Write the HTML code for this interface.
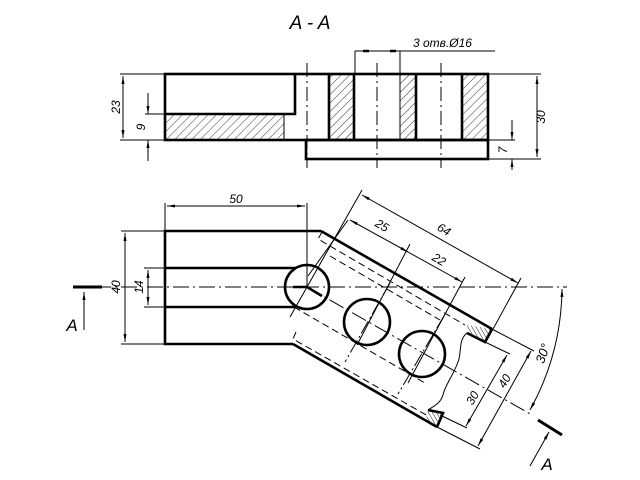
<!DOCTYPE html>
<html><head><meta charset="utf-8"><style>
html,body{margin:0;padding:0;background:#fff}
svg{display:block}
text{font-family:"Liberation Sans","DejaVu Sans",sans-serif;font-style:italic;fill:#000}
</style></head><body>
<svg width="640" height="480" viewBox="0 0 640 480" xmlns="http://www.w3.org/2000/svg">
<defs>
<pattern id="h" width="6" height="6" patternUnits="userSpaceOnUse" patternTransform="rotate(45)">
<line x1="0" y1="0" x2="0" y2="6" stroke="#000" stroke-width="0.8"/>
</pattern>
<pattern id="h2" width="3.5" height="3.5" patternUnits="userSpaceOnUse" patternTransform="rotate(-30)">
<line x1="0" y1="0" x2="0" y2="3.5" stroke="#000" stroke-width="0.9"/>
</pattern>
<marker id="ar" markerWidth="8" markerHeight="6" refX="8" refY="3" orient="auto" markerUnits="userSpaceOnUse">
<path d="M0,1.5 L8,3 L0,4.5z" fill="#000"/></marker>
<marker id="as" markerWidth="8" markerHeight="6" refX="0" refY="3" orient="auto" markerUnits="userSpaceOnUse">
<path d="M8,1.5 L0,3 L8,4.5z" fill="#000"/></marker>
</defs>

<text x="310" y="29" font-size="19" text-anchor="middle">A - A</text>

<g>
<rect x="165" y="114" width="119" height="26" fill="url(#h)"/>
<rect x="329" y="74" width="25" height="66" fill="url(#h)"/>
<rect x="400" y="74" width="16" height="66" fill="url(#h)"/>
<rect x="462" y="74" width="26" height="66" fill="url(#h)"/>
<g fill="none" stroke="#000" stroke-width="2.6">
<rect x="165" y="74" width="323" height="66"/>
<polyline points="165,114 295,114 295,74"/>
<rect x="306" y="140" width="182" height="19"/>
<line x1="329" y1="74" x2="329" y2="140"/>
<line x1="354" y1="74" x2="354" y2="140"/>
<line x1="416" y1="74" x2="416" y2="140"/>
<line x1="462" y1="74" x2="462" y2="140"/>
</g>
<g stroke="#000" stroke-width="1" fill="none">
<line x1="284" y1="114" x2="284" y2="140"/>
<line x1="400" y1="74" x2="400" y2="140"/>
<g stroke-dasharray="14,4,2,4">
<line x1="307" y1="63" x2="307" y2="168"/>
<line x1="377" y1="63" x2="377" y2="168"/>
<line x1="441" y1="63" x2="441" y2="168"/>
</g>
<line x1="355" y1="51" x2="355" y2="74"/>
<line x1="400" y1="51" x2="400" y2="74"/>
<line x1="355" y1="51" x2="495" y2="51"/>
<line x1="120" y1="74" x2="165" y2="74"/>
<line x1="120" y1="140" x2="165" y2="140"/>
<line x1="123" y1="76" x2="123" y2="138" marker-start="url(#as)" marker-end="url(#ar)"/>
<line x1="145" y1="114" x2="165" y2="114"/>
<line x1="148" y1="93" x2="148" y2="114" marker-end="url(#ar)"/>
<line x1="148" y1="161" x2="148" y2="140" marker-end="url(#ar)"/>
<line x1="488" y1="74" x2="541" y2="74"/>
<line x1="488" y1="159" x2="541" y2="159"/>
<line x1="537" y1="76" x2="537" y2="157" marker-start="url(#as)" marker-end="url(#ar)"/>
<line x1="488" y1="140" x2="515" y2="140"/>
<line x1="512" y1="120" x2="512" y2="140" marker-end="url(#ar)"/>
<line x1="512" y1="170" x2="512" y2="159" marker-end="url(#ar)"/>
</g>
<g stroke="#000" stroke-width="2.5"><line x1="363" y1="51" x2="369" y2="51"/><line x1="390" y1="51" x2="396" y2="51"/></g>
<text x="413" y="47" font-size="12">3 отв.Ø16</text>
<text transform="translate(120,107) rotate(-90)" font-size="12" text-anchor="middle">23</text>
<text transform="translate(145,127) rotate(-90)" font-size="12" text-anchor="middle">9</text>
<text transform="translate(545,117) rotate(-90)" font-size="12" text-anchor="middle">30</text>
<text transform="translate(507,150) rotate(-90)" font-size="12" text-anchor="middle">7</text>
</g>

<polygon points="467,325 492,329 485,342 467,333" fill="url(#h2)"/>
<polygon points="428,410 443,413 437,427 426,420" fill="url(#h2)"/>
<g fill="none" stroke="#000" stroke-width="2.6">
<polyline points="321,231 165,231 165,344 293,344"/>
<line x1="165" y1="268" x2="296" y2="268"/>
<line x1="165" y1="307" x2="296" y2="307"/>
<circle cx="307" cy="287" r="22"/>
<circle cx="367" cy="322" r="23"/>
<circle cx="422" cy="354" r="23"/>
<line x1="321" y1="231" x2="492" y2="329"/>
<polyline points="492,329 485,342 467,333"/>
<line x1="293" y1="344" x2="437" y2="427"/>
<polyline points="437,427 443,413 428,410"/>
<polyline points="293,287 307,287 322,296"/>
</g>
<g fill="none" stroke="#000" stroke-width="1">
<path d="M467,333 C458,340 462,352 458,362 C452,378 445,385 443,395 C441,402 436,405 428,410"/>
<g stroke-dasharray="7,4">
<polyline points="322,232 318,239 465,325"/>
<line x1="330" y1="256" x2="440" y2="320"/>
<polyline points="296,332 293,339 428,416"/>
<line x1="294" y1="307" x2="425" y2="383"/>
</g>
<g stroke-dasharray="16,4,2,4">
<line x1="95" y1="287" x2="567" y2="287"/>
<line x1="307" y1="287" x2="532" y2="415"/>
</g>
<line x1="165" y1="203" x2="165" y2="231"/>
<line x1="307" y1="203" x2="307" y2="287"/>
<line x1="167" y1="206" x2="305" y2="206" marker-start="url(#as)" marker-end="url(#ar)"/>
<line x1="121" y1="231" x2="165" y2="231"/>
<line x1="121" y1="344" x2="165" y2="344"/>
<line x1="125" y1="233" x2="125" y2="342" marker-start="url(#as)" marker-end="url(#ar)"/>
<line x1="144" y1="268" x2="165" y2="268"/>
<line x1="144" y1="307" x2="165" y2="307"/>
<line x1="148" y1="270" x2="148" y2="305" marker-start="url(#as)" marker-end="url(#ar)"/>
<line x1="84" y1="330" x2="84" y2="292" marker-end="url(#ar)"/>
<line x1="362" y1="190" x2="290" y2="317"/>
<line x1="521" y1="278" x2="487" y2="340"/>
<line x1="362" y1="195" x2="518" y2="283" marker-start="url(#as)" marker-end="url(#ar)"/>
<line x1="410" y1="244" x2="357" y2="345"/>
<line x1="465" y1="277" x2="408" y2="383"/>
<line x1="350" y1="220" x2="408" y2="252" marker-start="url(#as)" marker-end="url(#ar)"/>
<line x1="408" y1="252" x2="462" y2="282" marker-end="url(#ar)"/>
<line x1="308" y1="276" x2="348" y2="220"/>
<line x1="390" y1="283" x2="345" y2="362" stroke-dasharray="14,3,2,3"/>
<line x1="444" y1="316" x2="398" y2="394" stroke-dasharray="14,3,2,3"/>
<line x1="485" y1="342" x2="510" y2="354"/>
<line x1="440" y1="415" x2="467" y2="428"/>
<line x1="507" y1="355" x2="466" y2="426" marker-start="url(#as)" marker-end="url(#ar)"/>
<line x1="492" y1="329" x2="534" y2="351"/>
<line x1="437" y1="427" x2="480" y2="449"/>
<line x1="531" y1="351" x2="478" y2="446" marker-start="url(#as)" marker-end="url(#ar)"/>
<path d="M562,289 A255,255 0 0 1 530,410" marker-start="url(#as)" marker-end="url(#ar)"/>
<line x1="530" y1="466" x2="549" y2="432" marker-end="url(#ar)"/>
</g>
<g stroke="#000" stroke-width="3">
<line x1="73" y1="287" x2="102" y2="287"/>
<line x1="538" y1="420" x2="562" y2="435"/>
</g>
<text x="236" y="203" font-size="12" text-anchor="middle">50</text>
<text transform="translate(120,287) rotate(-90)" font-size="12" text-anchor="middle">40</text>
<text transform="translate(143,287) rotate(-90)" font-size="12" text-anchor="middle">14</text>
<text x="72" y="331" font-size="17" text-anchor="middle">A</text>
<text transform="translate(442,233) rotate(30)" font-size="12" text-anchor="middle">64</text>
<text transform="translate(380,229) rotate(30)" font-size="12" text-anchor="middle">25</text>
<text transform="translate(437,263) rotate(30)" font-size="12" text-anchor="middle">22</text>
<text transform="translate(476,400) rotate(-60)" font-size="12" text-anchor="middle">30</text>
<text transform="translate(508,383) rotate(-60)" font-size="12" text-anchor="middle">40</text>
<text transform="translate(547,355) rotate(-70)" font-size="13" text-anchor="middle">30°</text>
<text x="547" y="470" font-size="17" text-anchor="middle">A</text>
</svg>
</body></html>
